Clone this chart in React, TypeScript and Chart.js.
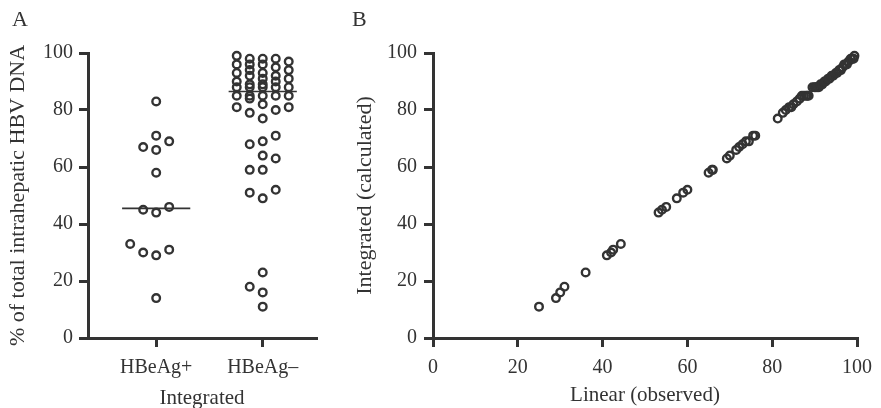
import React, { useEffect, useRef } from "react";
import { Chart, registerables } from "chart.js";

Chart.register(...registerables);

// ---------- data ----------
const groupLabels = ["HBeAg+", "HBeAg–"];
const groupPositions = [1, 2];

const hbeagPos = [83, 71, 69, 67, 66, 58, 46, 45, 44, 33, 31, 30, 29, 14];

const hbeagNeg = [
  11, 16, 18, 23, 49, 51, 52, 59, 59, 63, 64, 68, 69, 71, 77, 79, 80, 81, 81, 82,
  84, 85, 85, 85, 85, 85, 88, 88, 88, 88, 88, 89, 89, 90, 90, 91, 91, 92, 92, 93,
  93, 94, 94, 95, 96, 96, 96, 97, 98, 98, 98, 99,
];

const linearObserved = [
  25, 29, 30, 31, 36, 41, 42, 42.5, 44.3, 53.2, 54, 55, 57.5, 59, 60, 65, 65.8, 66,
  69.3, 70, 71.5, 72.2, 73, 73.8, 74.5, 75.5, 76, 81.3, 82.5, 83.2, 84, 84.5, 85,
  85.8, 86.5, 87, 87.5, 88, 88.3, 88.6, 89.5, 90, 90.3, 90.6, 91, 91.4, 91.8, 92.3,
  92.6, 93.2, 93.5, 94, 94.4, 95, 95.3, 95.8, 96.2, 96.6, 97, 97.3, 97.6, 98, 98.5,
  99, 99.2, 99.4,
];

const integratedCalc = [
  11, 14, 16, 18, 23, 29, 30, 31, 33, 44, 45, 46, 49, 51, 52, 58, 59, 59, 63, 64,
  66, 67, 68, 69, 69, 71, 71, 77, 79, 80, 81, 81, 82, 83, 84, 85, 85, 85, 85, 85,
  88, 88, 88, 88, 88, 89, 89, 90, 90, 91, 91, 92, 92, 93, 93, 94, 94, 95, 96, 96,
  96, 97, 98, 98, 98, 99,
];

const yTicks = [0, 20, 40, 60, 80, 100];
const xTicksB = [0, 20, 40, 60, 80, 100];

// ---------- helpers ----------
const INK = "#333333";
const FONT = "'Liberation Serif', 'Times New Roman', serif";

function median(values: number[]) {
  const s = [...values].sort((a, b) => a - b);
  const m = Math.floor(s.length / 2);
  return s.length % 2 ? s[m] : (s[m - 1] + s[m]) / 2;
}

// simple beeswarm: discrete side slots, chosen to avoid overlap
function swarm(values: number[], center: number, step: number, minGap: number) {
  const sorted = [...values].sort((a, b) => a - b);
  const slots = [0, -1, 1, -2, 2];
  const placed: { s: number; v: number }[] = [];
  return sorted.map((v) => {
    let best = 0;
    let bestD = -1;
    for (const s of slots) {
      const ds = placed.filter((p) => p.s === s).map((p) => Math.abs(p.v - v));
      const d = ds.length ? Math.min(...ds) : Infinity;
      if (d >= minGap) {
        best = s;
        break;
      }
      if (d > bestD) {
        bestD = d;
        best = s;
      }
    }
    placed.push({ s: best, v });
    return { x: center + best * step, y: v };
  });
}

const tickFont = { family: FONT, size: 20 };
const xTitleFont = { family: FONT, size: 21 };
const yTitleFont = { family: FONT, size: 22 };

function axisGrid() {
  return {
    display: true,
    drawOnChartArea: false,
    drawTicks: true,
    tickLength: 9,
    lineWidth: 3,
    color: INK,
  };
}

const pointStyle = {
  pointRadius: 3.8,
  pointHoverRadius: 3.8,
  pointBorderWidth: 2.4,
  pointBorderColor: INK,
  pointBackgroundColor: "rgba(0,0,0,0)",
  showLine: false,
};

function configA(): any {
  const medPos = median(hbeagPos);
  const medNeg = median(hbeagNeg);
  const half = 0.32;
  return {
    type: "scatter",
    data: {
      datasets: [
        { data: swarm(hbeagPos, groupPositions[0], 0.122, 4.2), ...pointStyle },
        { data: swarm(hbeagNeg, groupPositions[1], 0.122, 4.2), ...pointStyle },
        {
          type: "line",
          data: [
            { x: groupPositions[0] - half, y: medPos },
            { x: groupPositions[0] + half, y: medPos },
          ],
          borderColor: INK,
          borderWidth: 1.6,
          pointRadius: 0,
        },
        {
          type: "line",
          data: [
            { x: groupPositions[1] - half, y: medNeg },
            { x: groupPositions[1] + half, y: medNeg },
          ],
          borderColor: INK,
          borderWidth: 1.6,
          pointRadius: 0,
        },
      ],
    },
    options: {
      responsive: false,
      animation: false,
      clip: false,
      layout: { padding: { top: 53, right: 24, bottom: 0, left: 0 } },
      plugins: { legend: { display: false }, tooltip: { enabled: false } },
      scales: {
        x: {
          type: "linear",
          min: 0.36,
          max: 2.5,
          afterBuildTicks: (scale: any) => {
            scale.ticks = groupPositions.map((v) => ({ value: v }));
          },
          afterFit: (scale: any) => {
            scale.height = 70;
          },
          grid: axisGrid(),
          border: { display: true, width: 3, color: INK },
          ticks: {
            color: INK,
            font: tickFont,
            padding: 9,
            autoSkip: false,
            maxRotation: 0,
            callback: (v: number) => {
              const i = groupPositions.indexOf(v);
              return i >= 0 ? groupLabels[i] : "";
            },
          },
          title: {
            display: true,
            text: "Integrated",
            color: INK,
            font: xTitleFont,
            padding: { top: 0, bottom: -3 },
          },
        },
        y: {
          type: "linear",
          min: 0,
          max: 100,
          afterBuildTicks: (scale: any) => {
            scale.ticks = yTicks.map((v) => ({ value: v }));
          },
          afterFit: (scale: any) => {
            scale.width = 88;
          },
          grid: axisGrid(),
          border: { display: true, width: 3, color: INK },
          ticks: { color: INK, font: tickFont, padding: 6 },
          title: {
            display: true,
            text: "% of total intrahepatic HBV DNA",
            color: INK,
            font: yTitleFont,
            padding: { top: 5, bottom: 0 },
          },
        },
      },
    },
  };
}

function configB(): any {
  return {
    type: "scatter",
    data: {
      datasets: [
        {
          data: linearObserved.map((x, i) => ({ x, y: integratedCalc[i] })),
          ...pointStyle,
        },
      ],
    },
    options: {
      responsive: false,
      animation: false,
      clip: false,
      layout: { padding: { top: 53, right: 18, bottom: 0, left: 0 } },
      plugins: { legend: { display: false }, tooltip: { enabled: false } },
      scales: {
        x: {
          type: "linear",
          min: 0,
          max: 100,
          afterBuildTicks: (scale: any) => {
            scale.ticks = xTicksB.map((v) => ({ value: v }));
          },
          afterFit: (scale: any) => {
            scale.height = 70;
          },
          grid: axisGrid(),
          border: { display: true, width: 3, color: INK },
          ticks: { color: INK, font: tickFont, padding: 9, maxRotation: 0 },
          title: {
            display: true,
            text: "Linear (observed)",
            color: INK,
            font: xTitleFont,
            padding: { top: 0, bottom: 0 },
          },
        },
        y: {
          type: "linear",
          min: 0,
          max: 100,
          afterBuildTicks: (scale: any) => {
            scale.ticks = yTicks.map((v) => ({ value: v }));
          },
          afterFit: (scale: any) => {
            scale.width = 93;
          },
          grid: axisGrid(),
          border: { display: true, width: 3, color: INK },
          ticks: { color: INK, font: tickFont, padding: 7 },
          title: {
            display: true,
            text: "Integrated (calculated)",
            color: INK,
            font: yTitleFont,
            padding: { top: 12, bottom: 0 },
          },
        },
      },
    },
  };
}

function Panel(props: { left: number; width: number; config: () => any }) {
  const ref = useRef<HTMLCanvasElement | null>(null);
  useEffect(() => {
    if (!ref.current) return;
    const chart = new Chart(ref.current, props.config());
    return () => chart.destroy();
  }, []);
  return (
    <canvas
      ref={ref}
      width={props.width}
      height={408}
      style={{
        position: "absolute",
        left: props.left,
        top: 0,
        width: props.width,
        height: 408,
      }}
    />
  );
}

export default function App() {
  const letter: React.CSSProperties = {
    position: "absolute",
    top: 8,
    fontFamily: FONT,
    fontSize: 22,
    lineHeight: "22px",
    color: INK,
  };
  return (
    <div
      style={{
        position: "absolute",
        left: 0,
        top: 0,
        width: 881,
        height: 408,
        background: "#fff",
        overflow: "hidden",
      }}
    >
      <Panel left={0} width={340} config={configA} />
      <Panel left={340} width={541} config={configB} />
      <div style={{ ...letter, left: 12 }}>A</div>
      <div style={{ ...letter, left: 352 }}>B</div>
    </div>
  );
}
